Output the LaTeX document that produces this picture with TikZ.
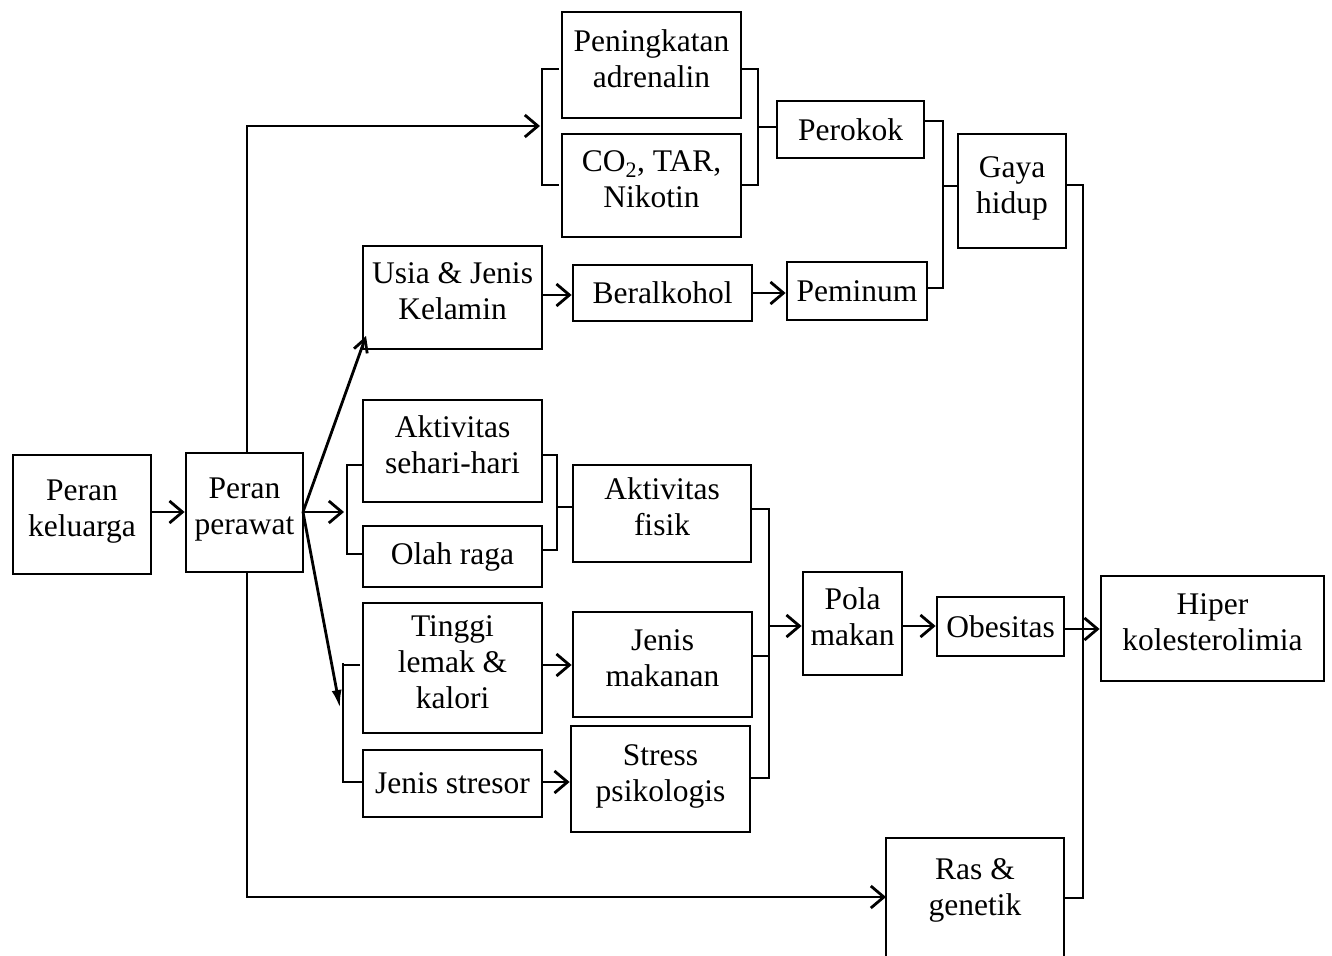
\documentclass[tikz,border=0pt]{standalone}
\usepackage{fontspec}
\setmainfont{Liberation Serif}
\usetikzlibrary{arrows.meta,calc}
\newcommand{\up}[1]{\raisebox{3pt}[\height][\depth]{\begin{tabular}{@{}c@{}}#1\end{tabular}}}
\begin{document}
\begin{tikzpicture}[x=1pt,y=-1pt,
  ln/.style={line width=2.8pt,line cap=butt,line join=miter},
  box/.style={ln,draw,inner sep=0pt,align=center,font=\fontsize{31.5}{36}\selectfont},
  arr/.style={ln,-{Straight Barb[length=13pt,width=22pt]}},
  arrn/.style={ln,-{Straight Barb[length=13pt,width=14pt]}},
  arrf/.style={ln,-{Latex[length=18pt,width=10pt]}}]
\useasboundingbox (0,0) rectangle (1332,955);
% nodes
\node[box,minimum width=138,minimum height=119] (kel) at (82,514.5) {\up{Peran\\keluarga}};
\node[box,minimum width=117,minimum height=119] (per) at (244.5,512.5) {\up{Peran\\perawat}};
\node[box,minimum width=179,minimum height=106] (pen) at (651.5,65) {\up{Peningkatan\\adrenalin}};
\node[box,minimum width=179,minimum height=103] (co2) at (651.5,185.5) {\up{CO\textsubscript{2}, TAR,\\Nikotin}};
\node[box,minimum width=147,minimum height=57] (rok) at (850.5,129.5) {Perokok};
\node[box,minimum width=108,minimum height=114] (gaya) at (1012,191) {\up{Gaya\\hidup}};
\node[box,minimum width=179,minimum height=103] (usia) at (452.5,297.5) {\up{Usia \& Jenis\\Kelamin}};
\node[box,minimum width=179,minimum height=56] (alk) at (662.5,293) {Beralkohol};
\node[box,minimum width=140,minimum height=58] (min) at (857,291) {Peminum};
\node[box,minimum width=179,minimum height=102] (akt) at (452.5,451) {\up{Aktivitas\\sehari-hari}};
\node[box,minimum width=179,minimum height=61] (olah) at (452.5,556.5) {Olah raga};
\node[box,minimum width=178,minimum height=97] (fis) at (662,513.5) {\up{Aktivitas\\fisik}};
\node[box,minimum width=179,minimum height=130] (tinggi) at (452.5,668) {\up{Tinggi\\lemak \&\\kalori}};
\node[box,minimum width=179,minimum height=67] (stresor) at (452.5,783.5) {Jenis stresor};
\node[box,minimum width=179,minimum height=105] (jm) at (662.5,664.5) {\up{Jenis\\makanan}};
\node[box,minimum width=179,minimum height=106] (sp) at (660.5,779) {\up{Stress\\psikologis}};
\node[box,minimum width=99,minimum height=103] (pola) at (852.5,623.5) {\up{Pola\\makan}};
\node[box,minimum width=127,minimum height=59] (obes) at (1000.5,626.5) {Obesitas};
\node[box,minimum width=223,minimum height=105] (hiper) at (1212.5,628.5) {\up{Hiper\\kolesterolimia}};
\node[box,draw=none] (ras) at (975,893) {\up{Ras \&\\genetik}};
\draw[ln] (886,990) -- (886,838) -- (1064,838) -- (1064,990);
% coordinates
\coordinate (rasW) at (886,897);
\coordinate (perE) at (303,512);
\coordinate (br1) at (540,126);
\coordinate (br2) at (344,512);
\coordinate (downT) at (340,708);
\coordinate (usiaT) at (366,336);
% keluarga -> perawat
\draw[arr] (kel.east |- perE) -- (per.west |- perE);
% top branch
\draw[arr] (247,453) |- (br1);
\draw[ln] (559,69) -- (542,69) -- (542,185) -- (559,185);
\draw[ln] (741,69) -- (758,69) -- (758,185) -- (741,185);
\draw[ln] (758,127) -- (rok.west |- 0,127);
\draw[ln] (rok.east |- 0,121) -- (943,121) -- (943,288) -- (min.east |- 0,288);
\draw[ln] (943,186) -- (gaya.west |- 0,186);
\draw[ln] (gaya.east |- 0,185) -- (1083,185) -- (1083,898) -- (1064,898);
% bottom branch
\draw[arr] (247,572) |- (rasW);
% fan from perawat
\draw[arrn] (perE) -- (usiaT);
\draw[arr] (perE) -- (br2);
\draw[arrf] (perE) -- (downT);
\draw[arr] (usia.east |- 0,295) -- (alk.west |- 0,295);
\draw[arr] (alk.east |- 0,293) -- (min.west |- 0,293);
% aktivitas brackets
\draw[ln] (363,465) -- (347,465) -- (347,554) -- (363,554);
\draw[ln] (542,455) -- (557,455) -- (557,550) -- (542,550);
\draw[ln] (557,507) -- (fis.west |- 0,507);
% tinggi / stresor
\draw[ln] (360,665) -- (343,665);
\draw[ln] (343,663) -- (343,782) -- (stresor.west |- 0,782);
\draw[arr] (tinggi.east |- 0,665) -- (jm.west |- 0,665);
\draw[arr] (stresor.east |- 0,782) -- (sp.west |- 0,782);
% pola makan bracket
\draw[ln] (fis.east |- 0,509) -- (769,509) -- (769,778) -- (sp.east |- 0,778);
\draw[ln] (jm.east |- 0,656) -- (769,656);
\draw[arr] (769,626) -- (pola.west |- 0,626);
\draw[arr] (pola.east |- 0,626) -- (obes.west |- 0,626);
\draw[arr] (obes.east |- 0,629) -- (hiper.west |- 0,629);
\end{tikzpicture}
\end{document}
